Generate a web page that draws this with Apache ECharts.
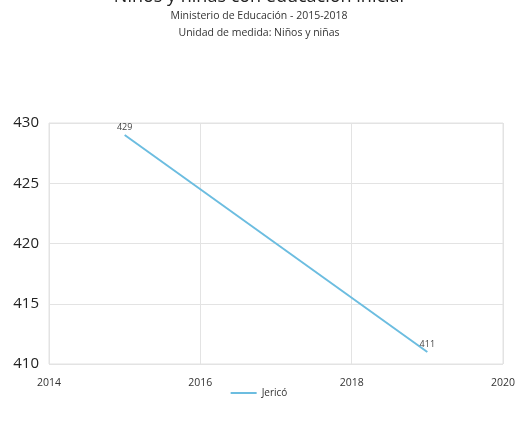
<!DOCTYPE html>
<html>
<head>
<meta charset="utf-8">
<script src="https://cdn.jsdelivr.net/npm/echarts@6/dist/echarts.min.js"></script>
<style>
  html, body { margin: 0; padding: 0; background: #fff; }
  #chart { width: 518px; height: 427px; }
</style>
</head>
<body>
<div id="chart"></div>
<script>
// data
const years = [2015, 2019];
const values = [429, 411];
const seriesName = "Jericó";

const chart = echarts.init(document.getElementById("chart"));
const font = "'Open Sans', 'Noto Sans', sans-serif";

chart.setOption({
  animation: false,
  textStyle: { fontFamily: font },
  title: {
    text: "Niños y niñas con educación inicial",
    subtext: "Ministerio de Educación - 2015-2018\nUnidad de medida: Niños y niñas",
    left: "center",
    top: -17,
    itemGap: 2,
    textStyle: { fontSize: 18, fontWeight: "normal", color: "#222", fontFamily: font },
    subtextStyle: { fontSize: 10.5, color: "#333", lineHeight: 17, fontFamily: font },
  },
  legend: {
    bottom: 24,
    left: "center",
    itemWidth: 26,
    itemHeight: 2,
    icon: "rect",
    textStyle: { fontSize: 10, color: "#333" },
    data: [seriesName],
  },
  grid: {
    left: 49,
    right: 15,
    top: 123,
    bottom: 63,
    show: true,
    borderColor: "#e3e3e3",
    borderWidth: 1,
  },
  xAxis: {
    type: "value",
    min: 2014,
    max: 2020,
    interval: 2,
    axisLine: { show: false },
    axisTick: { show: false },
    splitLine: { show: true, lineStyle: { color: "#e3e3e3" } },
    axisLabel: { fontSize: 10.5, color: "#333", margin: 14, formatter: (v) => String(v) },
  },
  yAxis: {
    type: "value",
    min: 410,
    max: 430,
    interval: 5,
    axisLine: { show: false },
    axisTick: { show: false },
    splitLine: { show: true, lineStyle: { color: "#e3e3e3" } },
    axisLabel: { fontSize: 15, color: "#222", margin: 10 },
  },
  series: [
    {
      name: seriesName,
      type: "line",
      data: years.map((y, i) => [y, values[i]]),
      showSymbol: true,
      symbol: "circle",
      symbolSize: 0,
      lineStyle: { color: "#6cbde0", width: 2 },
      itemStyle: { color: "#6cbde0" },
      label: {
        show: true,
        position: "top",
        distance: 3,
        fontSize: 9,
        color: "#444",
        formatter: (p) => p.value[1],
      },
    },
  ],
});
</script>
</body>
</html>
